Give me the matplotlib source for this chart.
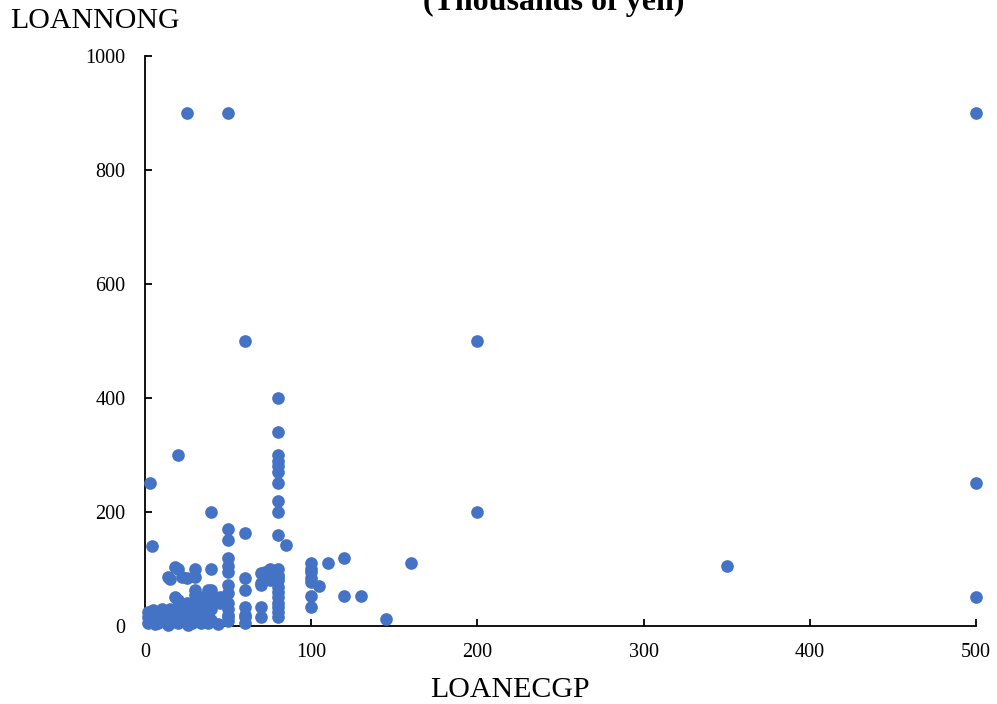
import matplotlib.pyplot as plt

# LOANECGP vs LOANNONG (thousands of yen)
loan_ecgp = [
    25, 50, 500, 60, 200, 500, 500, 350, 200, 160, 145, 130, 120, 120, 110, 105,
    100, 100, 100, 100, 100, 100, 100,
    80, 80, 80, 80, 80, 80, 80, 80, 80, 80, 80, 80, 80, 80, 80, 80, 80, 80, 80, 80, 80,
    85, 75, 75, 72,
    70, 70, 70, 70, 70,
    60, 60, 60, 60, 60, 60, 60,
    50, 50, 50, 50, 50, 50, 50, 50, 50, 50, 50, 50,
    40, 40, 40, 40,
    20, 3, 4,
    20, 18, 30, 15, 25, 30, 22, 14,
    30, 38, 18,
    2, 2, 2, 5, 5, 5, 8, 8, 10, 10, 12, 12, 15, 15, 15, 18, 18, 20, 20, 20, 20, 22,
    25, 25, 25, 28, 28, 30, 30, 30, 32, 32, 35, 35, 35, 38, 38, 40, 40, 42, 45, 45, 48,
    3, 6, 10, 14, 22, 26, 34, 44,
]
loan_nong = [
    900, 900, 900, 500, 500, 250, 50, 105, 200, 110, 12, 52, 52, 120, 110, 70,
    110, 100, 95, 85, 78, 52, 33,
    400, 340, 300, 290, 280, 270, 250, 220, 200, 160, 100, 90, 86, 80, 68, 60, 51, 40, 33, 25, 16,
    142, 100, 80, 95,
    93, 75, 72, 33, 16,
    163, 84, 63, 33, 20, 16, 5,
    170, 150, 120, 105, 95, 72, 58, 40, 30, 20, 16, 8,
    200, 100, 63, 50,
    300, 250, 140,
    100, 103, 100, 82, 85, 86, 86, 86,
    63, 63, 51,
    5, 15, 25, 10, 20, 28, 5, 15, 25, 30, 10, 20, 5, 15, 30, 10, 25, 5, 20, 35, 45, 15,
    10, 25, 40, 5, 20, 30, 45, 55, 10, 15, 25, 40, 50, 5, 20, 30, 10, 45, 50, 40, 50,
    8, 3, 12, 2, 8, 2, 5, 3,
]

x_ticks = [0, 100, 200, 300, 400, 500]
y_ticks = [0, 200, 400, 600, 800, 1000]

plt.rcParams['font.family'] = ['Liberation Serif', 'DejaVu Serif']

fig = plt.figure(figsize=(9.97, 7.04), dpi=100)
ax = fig.add_axes([0.1454, 0.1108, 0.8336, 0.8097])

ax.scatter(loan_ecgp, loan_nong, s=83, color='#4472C4', linewidths=0, clip_on=False, zorder=3)

ax.set_xlim(0, 500)
ax.set_ylim(0, 1000)
ax.set_xticks(x_ticks)
ax.set_yticks(y_ticks)
ax.tick_params(direction='in', length=5, width=1.3, labelsize=14.5, colors='black')
ax.tick_params(axis='x', pad=12)
ax.tick_params(axis='y', pad=14)

for side in ['top', 'right']:
    ax.spines[side].set_visible(False)
for side in ['left', 'bottom']:
    ax.spines[side].set_linewidth(1.3)

fig.text(0.555, 1 - 10 / 704, '(Thousands of yen)', ha='center', va='baseline',
         fontsize=23, fontweight='bold')
fig.text(10 / 997, 1 - 28 / 704, 'LOANNONG', ha='left', va='baseline', fontsize=21.5)
fig.text(510 / 997, 1 - 697 / 704, 'LOANECGP', ha='center', va='baseline', fontsize=21.5)

fig.savefig('out.png', dpi=100)
